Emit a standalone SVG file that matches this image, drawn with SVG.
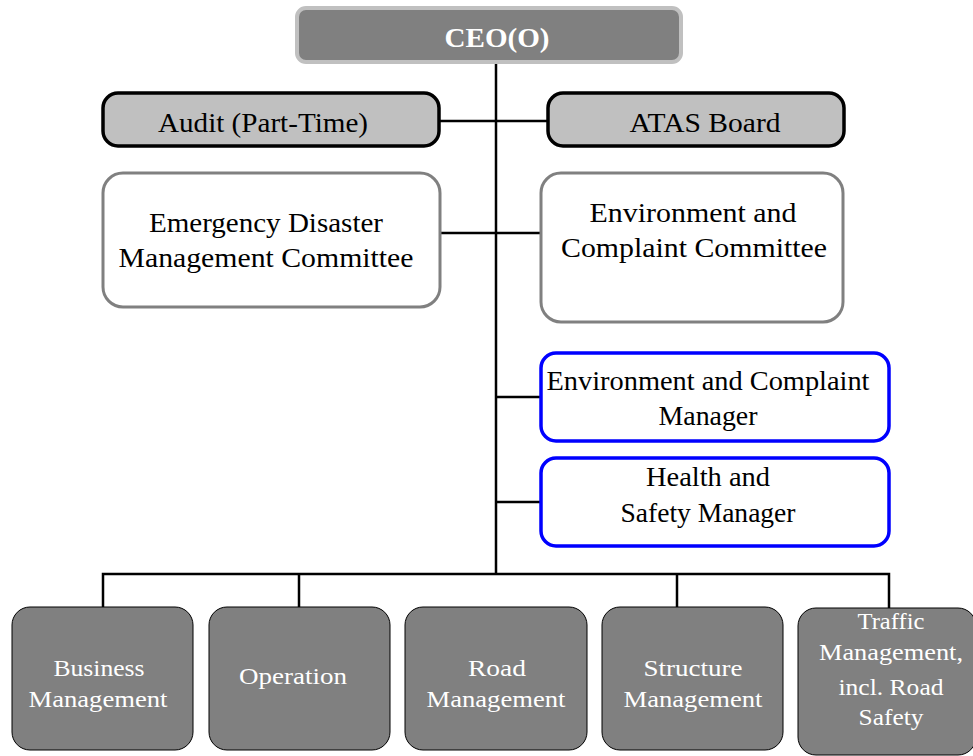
<svg xmlns="http://www.w3.org/2000/svg" width="973" height="756" viewBox="0 0 973 756">
<style>
text{font-family:"Liberation Serif","Times New Roman",serif;text-anchor:middle}
.t{font-size:27px;fill:#000}
.w{font-size:23.5px;fill:#fff}
.ceo{fill:#808080;stroke:#c0c0c0;stroke-width:4}
.lg{fill:#c0c0c0;stroke:#000;stroke-width:3.5}
.gw{fill:#fff;stroke:#808080;stroke-width:3}
.bl{fill:#fff;stroke:#0000ff;stroke-width:3.5}
.dk{fill:#808080;stroke:#000;stroke-width:1}
.c{stroke:#000;stroke-width:2.5;fill:none}
</style>
<rect width="973" height="756" fill="#fff"/>
<g id="connectors">
<line class="c" x1="496" y1="62" x2="496" y2="575"/>
<line class="c" x1="440" y1="121" x2="548" y2="121"/>
<line class="c" x1="440" y1="233" x2="541" y2="233"/>
<line class="c" x1="496" y1="397" x2="540" y2="397"/>
<line class="c" x1="496" y1="502" x2="540" y2="502"/>
<polyline class="c" points="103,608 103,574 889,574 889,608"/>
<line class="c" x1="299" y1="574" x2="299" y2="608"/>
<line class="c" x1="677" y1="574" x2="677" y2="608"/>
</g>
<g id="ceo">
<rect class="ceo" x="297" y="8" width="384" height="54" rx="9"/>
<text x="497" y="47" style="font-size:27px;font-weight:bold;fill:#fff" textLength="105" lengthAdjust="spacingAndGlyphs">CEO(O)</text>
</g>
<g id="audit">
<rect class="lg" x="103" y="93" width="336" height="53" rx="15"/>
<text class="t" x="263" y="132" textLength="210" lengthAdjust="spacingAndGlyphs">Audit (Part-Time)</text>
</g>
<g id="atas">
<rect class="lg" x="548" y="93" width="296" height="53" rx="15"/>
<text class="t" x="705" y="132" textLength="151" lengthAdjust="spacingAndGlyphs">ATAS Board</text>
</g>
<g id="emergency">
<rect class="gw" x="103" y="173" width="337" height="134" rx="20"/>
<text class="t" x="266" y="232" textLength="234" lengthAdjust="spacingAndGlyphs">Emergency Disaster</text>
<text class="t" x="266" y="267" textLength="295" lengthAdjust="spacingAndGlyphs">Management Committee</text>
</g>
<g id="env-committee">
<rect class="gw" x="541" y="173" width="302" height="149" rx="20"/>
<text class="t" x="693" y="222" textLength="207" lengthAdjust="spacingAndGlyphs">Environment and</text>
<text class="t" x="694" y="257" textLength="266" lengthAdjust="spacingAndGlyphs">Complaint Committee</text>
</g>
<g id="env-manager">
<rect class="bl" x="541" y="353" width="348" height="88" rx="15"/>
<text class="t" x="708" y="390" textLength="323" lengthAdjust="spacingAndGlyphs">Environment and Complaint</text>
<text class="t" x="708" y="425" textLength="99" lengthAdjust="spacingAndGlyphs">Manager</text>
</g>
<g id="hs-manager">
<rect class="bl" x="541" y="458" width="348" height="88" rx="15"/>
<text class="t" x="708" y="486" textLength="124" lengthAdjust="spacingAndGlyphs">Health and</text>
<text class="t" x="708" y="522" textLength="175" lengthAdjust="spacingAndGlyphs">Safety Manager</text>
</g>
<g id="business">
<rect class="dk" x="12" y="607" width="181" height="143" rx="18"/>
<text class="w" x="99" y="676" textLength="91" lengthAdjust="spacingAndGlyphs">Business</text>
<text class="w" x="98" y="707" textLength="139" lengthAdjust="spacingAndGlyphs">Management</text>
</g>
<g id="operation">
<rect class="dk" x="209" y="607" width="181" height="143" rx="18"/>
<text class="w" x="293" y="684" textLength="108" lengthAdjust="spacingAndGlyphs">Operation</text>
</g>
<g id="road">
<rect class="dk" x="405" y="607" width="182" height="143" rx="18"/>
<text class="w" x="497" y="676" textLength="58" lengthAdjust="spacingAndGlyphs">Road</text>
<text class="w" x="496" y="707" textLength="139" lengthAdjust="spacingAndGlyphs">Management</text>
</g>
<g id="structure">
<rect class="dk" x="602" y="607" width="181" height="143" rx="18"/>
<text class="w" x="693" y="676" textLength="99" lengthAdjust="spacingAndGlyphs">Structure</text>
<text class="w" x="693" y="707" textLength="139" lengthAdjust="spacingAndGlyphs">Management</text>
</g>
<g id="traffic">
<rect class="dk" x="798" y="608" width="178" height="147" rx="18"/>
<text class="w" x="891" y="629" textLength="67" lengthAdjust="spacingAndGlyphs">Traffic</text>
<text class="w" x="891" y="660" textLength="144" lengthAdjust="spacingAndGlyphs">Management,</text>
<text class="w" x="891" y="695" textLength="105" lengthAdjust="spacingAndGlyphs">incl. Road</text>
<text class="w" x="891" y="725" textLength="65" lengthAdjust="spacingAndGlyphs">Safety</text>
</g>
</svg>
